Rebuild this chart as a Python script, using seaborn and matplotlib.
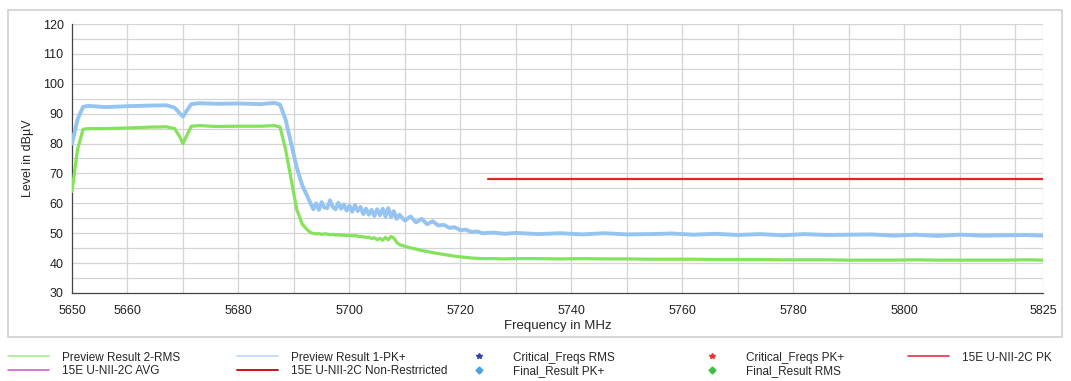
import numpy as np
import pandas as pd
import matplotlib
matplotlib.use("Agg")
import matplotlib.pyplot as plt
import seaborn as sns
from matplotlib.lines import Line2D
from matplotlib.patches import Rectangle

# Frequencies (MHz) and levels (dBuV)
freq = [5650, 5651, 5652, 5653, 5656, 5660, 5664, 5667, 5668.5, 5669.5, 5670, 5670.5,
        5671.5, 5673, 5676, 5680, 5684, 5686.5, 5687.5, 5688.5, 5689.5, 5690.5, 5691.5,
        5692.5, 5693, 5693.5, 5694, 5694.5, 5695, 5695.5, 5696, 5696.5, 5697, 5697.5,
        5698, 5698.5, 5699, 5699.5, 5700, 5700.5, 5701, 5701.5, 5702, 5702.5, 5703,
        5703.5, 5704, 5704.5, 5705, 5705.5, 5706, 5706.5, 5707, 5707.5, 5708, 5708.5,
        5709, 5710, 5711, 5712, 5713, 5714, 5715, 5716, 5717, 5718, 5719, 5720, 5721,
        5722, 5723, 5724, 5726, 5728, 5730, 5734, 5738, 5742, 5746, 5750, 5754, 5758,
        5762, 5766, 5770, 5774, 5778, 5782, 5786, 5790, 5794, 5798, 5802, 5806, 5810,
        5814, 5818, 5822, 5825]

pk_level = [80.0, 88.0, 92.3, 92.6, 92.2, 92.5, 92.7, 92.8, 92.0, 90.0, 89.0, 90.5,
            93.2, 93.5, 93.3, 93.4, 93.2, 93.6, 93.0, 88.0, 80.0, 72.0, 66.0,
            62.0, 60.0, 58.0, 60.0, 57.8, 60.4, 58.6, 58.4, 61.0, 58.8, 58.0,
            60.2, 58.2, 59.6, 57.6, 59.2, 57.2, 59.4, 57.4, 58.8, 56.4, 58.2,
            56.2, 57.8, 55.8, 58.0, 56.0, 58.2, 55.6, 58.4, 55.4, 57.4, 54.8,
            56.2, 54.2, 55.6, 53.6, 54.8, 53.0, 54.0, 52.6, 52.8, 51.8, 52.0, 51.0, 51.2,
            50.4, 50.6, 50.0, 50.2, 49.8, 50.1, 49.7, 50.0, 49.6, 50.0, 49.6, 49.7, 49.9,
            49.5, 49.8, 49.4, 49.7, 49.3, 49.7, 49.4, 49.5, 49.6, 49.2, 49.5, 49.1, 49.5,
            49.2, 49.3, 49.4, 49.2]

rms_level = [64.0, 78.0, 84.8, 85.0, 85.0, 85.2, 85.5, 85.6, 85.0, 82.0, 80.0, 82.0,
             85.8, 86.0, 85.7, 85.8, 85.8, 86.0, 85.5, 78.0, 68.0, 58.0, 53.0,
             51.0, 50.2, 49.9, 49.8, 49.9, 49.6, 49.8, 49.7, 49.5, 49.6, 49.4,
             49.5, 49.3, 49.4, 49.2, 49.3, 49.1, 49.2, 49.0, 48.9, 48.8, 48.6,
             48.7, 48.2, 48.5, 47.8, 48.3, 47.6, 48.6, 47.8, 48.9, 48.4, 47.0,
             46.2, 45.6, 45.1, 44.7, 44.2, 43.9, 43.5, 43.2, 42.9, 42.6, 42.3, 42.1, 41.9,
             41.7, 41.6, 41.5, 41.5, 41.4, 41.5, 41.5, 41.4, 41.5, 41.4, 41.4, 41.3, 41.3,
             41.3, 41.2, 41.2, 41.2, 41.1, 41.1, 41.1, 41.0, 41.0, 41.0, 41.1, 41.0, 41.0,
             41.0, 41.0, 41.1, 41.0]

limit_freq = [5725, 5825]
limit_level = [68.2, 68.2]

df = pd.DataFrame({"freq": freq, "pk": pk_level, "rms": rms_level})
df_lim = pd.DataFrame({"freq": limit_freq, "level": limit_level})

sns.set_style("white")
plt.rcParams["font.family"] = ["Liberation Sans", "DejaVu Sans"]

fig = plt.figure(figsize=(10.71, 3.81), dpi=100)
ax = fig.add_axes([0.0672, 0.231, 0.9067, 0.706])

# grid
for f in range(5660, 5830, 10):
    ax.axvline(f, color="#d4d4d4", lw=0.9, zorder=0)
ax.axvline(5825, color="#d4d4d4", lw=0.9, zorder=0)
for lv in range(35, 125, 5):
    ax.axhline(lv, color="#d4d4d4", lw=0.9, zorder=0)

sns.lineplot(data=df, x="freq", y="pk", ax=ax, color="#96c4f0", lw=2.8, zorder=3)
sns.lineplot(data=df, x="freq", y="rms", ax=ax, color="#84e35a", lw=2.3, zorder=4)
sns.lineplot(data=df_lim, x="freq", y="level", ax=ax, color="#e0262a", lw=1.6, zorder=5)

ax.set_xlim(5650, 5825)
ax.set_ylim(30, 120)
ax.set_xticks([5650, 5660, 5680, 5700, 5720, 5740, 5760, 5780, 5800, 5825])
ax.set_xticks(list(range(5670, 5830, 20)) + [5810, 5820], minor=True)
ax.set_yticks(range(30, 121, 10))
ax.set_yticks(range(35, 120, 10), minor=True)
ax.tick_params(axis="both", which="major", length=4, width=0.8, color="#444444",
               labelsize=9, labelcolor="#222222", pad=2)
ax.tick_params(axis="both", which="minor", length=4, width=0.8, color="#444444")
ax.tick_params(axis="x", direction="inout", length=6, pad=6)
ax.tick_params(axis="x", which="minor", direction="inout", length=6)
ax.tick_params(axis="y", direction="out")
for s in ["top", "right"]:
    ax.spines[s].set_visible(False)
for s in ["left", "bottom"]:
    ax.spines[s].set_color("#444444")
    ax.spines[s].set_linewidth(0.9)
ax.set_xlabel("Frequency in MHz", fontsize=9.5, labelpad=2)
ax.set_ylabel("Level in dBµV", fontsize=9, labelpad=6)

# outer frame
fig.patches.append(Rectangle((8 / 1071, 1 - 337 / 381), 1054 / 1071, 327 / 381,
                             transform=fig.transFigure, fill=False,
                             edgecolor="#cfcfcf", lw=1.2))

# legend, five columns placed by hand
columns = [
    [Line2D([], [], color="#a8ec8c", lw=1.2, label="Preview Result 2-RMS"),
     Line2D([], [], color="#d35bd8", lw=1.2, label="15E U-NII-2C AVG")],
    [Line2D([], [], color="#b9d6f2", lw=1.2, label="Preview Result 1-PK+"),
     Line2D([], [], color="#c8141c", lw=1.4, label="15E U-NII-2C Non-Restrricted")],
    [Line2D([], [], color="#2b3fb0", marker="*", ms=4, ls="", label="Critical_Freqs RMS"),
     Line2D([], [], color="#4aa3e0", marker="D", ms=3.5, ls="", label="Final_Result PK+")],
    [Line2D([], [], color="#ee3030", marker="*", ms=4, ls="", label="Critical_Freqs PK+"),
     Line2D([], [], color="#3cc040", marker="D", ms=3.5, ls="", label="Final_Result RMS")],
    [Line2D([], [], color="#e8304a", lw=1.2, label="15E U-NII-2C PK")],
]
col_x = [4, 233, 455, 688, 904]
for hx, hs in zip(col_x, columns):
    leg = fig.legend(handles=hs, loc="upper left", bbox_to_anchor=(hx / 1071, 1 - 348 / 381),
                     frameon=False, fontsize=8.5, handlelength=3.5, handletextpad=1.1,
                     labelspacing=0.15, borderpad=0, borderaxespad=0.3)

fig.savefig("out.png", dpi=100, facecolor="white")
